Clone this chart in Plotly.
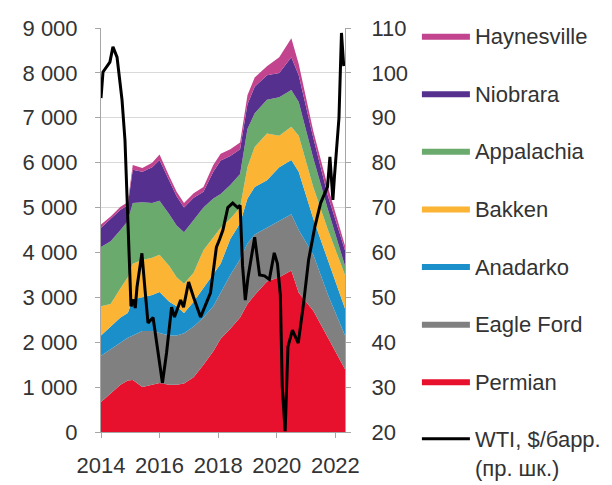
import plotly.graph_objects as go

# ---- data ----
area_dates = ["2014-01-01", "2014-05-01", "2014-09-01", "2014-12-01", "2015-02-01",
              "2015-06-01", "2015-10-01", "2016-01-01", "2016-05-01", "2016-08-01",
              "2016-11-01", "2017-03-01", "2017-07-01", "2017-11-01", "2018-02-01",
              "2018-06-01", "2018-10-01", "2019-01-01", "2019-04-01", "2019-09-01",
              "2020-02-01", "2020-07-01", "2020-10-01", "2021-04-01", "2021-10-01",
              "2022-05-01"]

permian     = [670, 850, 1050, 1150, 1160, 1000, 1050, 1090, 1050, 1050, 1080, 1220, 1500,
               1800, 2080, 2300, 2550, 2850, 3050, 3350, 3450, 3600, 3100, 2700, 2100, 1400]
eagle_ford  = [1030, 1000, 950, 950, 990, 1250, 1200, 1110, 1100, 1100, 1120, 1130, 1050,
               1000, 1020, 1200, 1300, 1350, 1350, 1200, 1250, 1250, 1400, 1250, 950, 750]
anadarko    = [450, 500, 550, 550, 800, 750, 800, 920, 750, 650, 450, 550, 650,
               700, 650, 800, 800, 1000, 1060, 1060, 1200, 1210, 1300, 800, 750, 600]
bakken      = [650, 500, 650, 800, 800, 830, 830, 830, 800, 650, 650, 650, 850,
               850, 800, 450, 350, 700, 890, 1040, 700, 740, 800, 700, 700, 750]
appalachia  = [1320, 1400, 1300, 1250, 1350, 1290, 1220, 1200, 1150, 1150, 1150, 1170, 950,
               850, 750, 750, 750, 850, 750, 750, 860, 820, 750, 650, 450, 200]
niobrara    = [430, 500, 450, 350, 740, 680, 800, 910, 750, 650, 550, 500, 350,
               600, 750, 650, 550, 550, 590, 550, 540, 730, 600, 450, 300, 350]
haynesville = [70, 50, 70, 70, 110, 80, 100, 120, 100, 100, 100, 100, 110,
               150, 150, 150, 150, 200, 210, 200, 350, 420, 250, 150, 200, 100]

wti_dates = ["2014-01-01", "2014-01-26", "2014-04-22", "2014-05-30", "2014-07-20",
             "2014-09-20", "2014-10-27", "2014-11-22", "2014-12-10", "2015-01-10",
             "2015-02-14", "2015-03-04", "2015-03-26", "2015-05-26", "2015-07-01",
             "2015-08-10", "2015-10-12", "2015-12-12", "2016-02-06", "2016-03-28",
             "2016-05-30", "2016-07-05", "2016-09-20", "2016-10-26", "2016-12-28",
             "2017-02-28", "2017-05-26", "2017-09-27", "2017-12-10", "2018-01-20",
             "2018-03-01", "2018-05-01", "2018-07-01", "2018-09-01", "2018-10-01",
             "2018-11-01", "2018-12-05", "2019-01-08", "2019-04-01", "2019-06-01",
             "2019-08-01", "2019-10-01", "2019-12-01", "2020-01-10", "2020-02-15",
             "2020-03-10", "2020-04-15", "2020-05-20", "2020-07-15", "2020-09-25",
             "2020-12-01", "2021-02-01", "2021-04-20", "2021-07-01", "2021-09-25",
             "2021-10-25", "2021-12-01", "2021-12-20", "2022-01-12", "2022-02-15",
             "2022-03-18", "2022-04-15"]
wti = [94.4, 100.2, 102.4, 105.8, 103.5, 94.0, 85.0, 71.7, 62.0, 48.0,
       49.5, 47.6, 52.3, 59.8, 52.3, 44.3, 45.5, 38.0, 30.9, 37.6,
       47.8, 45.6, 49.4, 47.8, 53.4, 50.0, 45.6, 51.0, 61.2, 63.0,
       65.0, 70.0, 71.0, 70.0, 70.5, 57.0, 49.4, 54.5, 63.4, 55.0,
       54.8, 54.0, 59.9, 57.5, 50.5, 30.0, 20.2, 39.0, 42.7, 39.8,
       48.7, 58.3, 65.7, 71.0, 74.6, 81.3, 71.7, 76.8, 82.0, 90.0,
       108.9, 101.5]

series = [
    ("Permian", permian, "#E8112D", 7),
    ("Eagle Ford", eagle_ford, "#808080", 6),
    ("Anadarko", anadarko, "#1A8FC9", 5),
    ("Bakken", bakken, "#FBB434", 4),
    ("Appalachia", appalachia, "#6AAA6D", 3),
    ("Niobrara", niobrara, "#56308F", 2),
    ("Haynesville", haynesville, "#C2438E", 1),
]

FONT = "Liberation Sans, Arial, sans-serif"
TXT = "#333333"

fig = go.Figure()
for name, vals, color, rank in series:
    fig.add_trace(go.Scatter(
        x=area_dates, y=vals, name=name, stackgroup="duc", mode="lines",
        line=dict(width=0, color=color), fillcolor=color,
        legendgroup=name, legendrank=rank, yaxis="y",
    ))

fig.add_trace(go.Scatter(
    x=wti_dates, y=wti, name="WTI, $/барр.<br>(пр. шк.)", mode="lines",
    line=dict(color="#000000", width=3), yaxis="y2",
    legendgroup="wti", legendrank=8,
))

axis_common = dict(
    tickfont=dict(family=FONT, size=22, color=TXT),
    showline=True, linecolor="#a6a6a6", linewidth=1,
    ticks="outside", tickcolor="#a6a6a6", ticklen=5,
    automargin=False,
)

fig.update_layout(
    width=604, height=477,
    margin=dict(l=93, r=267, t=20, b=53, autoexpand=False),
    paper_bgcolor="white", plot_bgcolor="white",
    separators=", ",
    font=dict(family=FONT, size=22, color=TXT),
    xaxis=dict(type="date", range=["2014-01-01", "2022-05-01"],
               tick0="2014-01-01", dtick="M24", tickformat="%Y",
               showgrid=False, ticklabelstandoff=9, **axis_common),
    yaxis=dict(range=[0, 9000], dtick=1000, tickformat=",",
               showgrid=True, gridcolor="#d9d9d9", gridwidth=1,
               zeroline=False, ticklabelstandoff=13, **axis_common),
    yaxis2=dict(range=[20, 110], dtick=10, overlaying="y", side="right",
                showgrid=False, zeroline=False, ticklabelstandoff=16, **axis_common),
    legend=dict(xref="container", yref="container", x=0.677, y=0.9856,
                xanchor="left", yanchor="top",
                font=dict(family=FONT, size=22, color=TXT),
                itemwidth=48, tracegroupgap=26, traceorder="grouped",
                valign="top", bgcolor="rgba(0,0,0,0)", maxheight=2000),
    showlegend=True,
)

fig.write_html("out.html")
